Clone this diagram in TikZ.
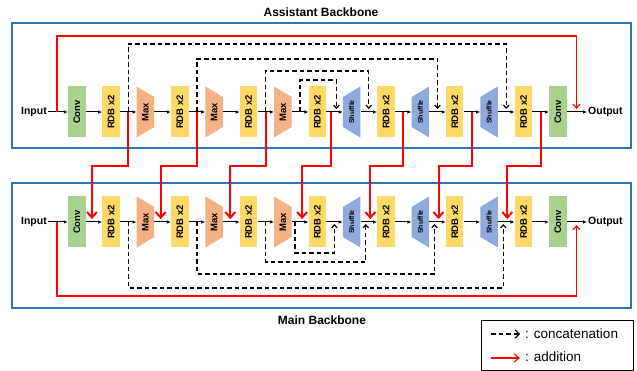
\documentclass[tikz,border=0pt]{standalone}
\usepackage{fontspec}
\usepackage{graphicx}
\setmainfont{Liberation Sans}
\setsansfont{Liberation Sans}
\usetikzlibrary{arrows.meta,calc}
\definecolor{Bc}{HTML}{2E75B6}
\definecolor{Cc}{HTML}{A9D18E}
\definecolor{Rc}{HTML}{FFD966}
\definecolor{Mc}{HTML}{F4B183}
\definecolor{Sc}{HTML}{8FAADC}
\definecolor{Ac}{HTML}{FF0000}
\tikzset{
  blk/.style={rectangle, inner sep=0pt, minimum width=17.5pt, minimum height=51pt, font=\bfseries\fontsize{9.5}{9.5}\selectfont},
  conv/.style={blk, fill=Cc},
  rdb/.style={blk, fill=Rc},
  maxp/.style={blk, path picture={\fill[Mc] (path picture bounding box.north west) -- ([yshift=-10.5pt]path picture bounding box.north east) -- ([yshift=10.5pt]path picture bounding box.south east) -- (path picture bounding box.south west) -- cycle;}},
  shuf/.style={blk, font=\bfseries\fontsize{7}{7}\selectfont, path picture={\fill[Sc] ([yshift=-10.5pt]path picture bounding box.north west) -- (path picture bounding box.north east) -- (path picture bounding box.south east) -- ([yshift=10.5pt]path picture bounding box.south west) -- cycle;}},
  io/.style={inner sep=1pt, font=\bfseries\fontsize{10.5}{10.5}\selectfont},
  ttl/.style={inner sep=1pt, font=\bfseries\fontsize{12}{12}\selectfont},
  bbox/.style={draw=Bc, line width=2pt, inner sep=0pt},
  flow/.style={-{Latex[length=4pt,width=3.5pt]}, line width=1pt},
  cat/.style={-{Straight Barb[length=3pt,width=5.5pt]}, dash pattern=on 4.5pt off 3pt, line width=1.2pt},
  add/.style={-{Straight Barb[length=4pt,width=7pt]}, Ac, line width=1.1pt},
  addx/.style={-{Straight Barb[length=5.5pt,width=10pt]}, Ac, line width=2pt},
}
\newcommand{\bbrow}[2]{% prefix, y
  \foreach \k/\lbl [count=\i from 0] in {conv/Conv, rdb/RDB x2, maxp/Max, rdb/RDB x2, maxp/Max, rdb/RDB x2, maxp/Max, rdb/RDB x2, shuf/Shuffle, rdb/RDB x2, shuf/Shuffle, rdb/RDB x2, shuf/Shuffle, rdb/RDB x2, conv/Conv}
    \node[\k] (#1\i) at ({76.75+34.36*\i},#2) {\rotatebox{90}{\lbl}};
  \foreach \i [evaluate=\i as \j using int(\i+1)] in {0,...,13} {
    \draw[flow] (#1\i) -- (#1\j);
    \coordinate (#1g\i) at ($(#1\i.east)!0.5!(#1\j.west)$);
  }
  \node[io, anchor=east] (#1in) at (48,#2) {Input};
  \node[io, anchor=west] (#1out) at (587,#2) {Output};
  \draw[flow] (#1in) -- (#10);
  \draw[flow] (#114) -- (#1out);
  \coordinate (#1s) at (57,#2);
  \coordinate (#1e) at (576.5,#2);
}

\begin{document}
\begin{tikzpicture}[x=1pt,y=-1pt]
  \useasboundingbox (0,0) rectangle (637,371);
  \node[bbox, minimum width=619pt, minimum height=125pt] (abox) at (321.5,85.5) {};
  \node[bbox, minimum width=619pt, minimum height=125pt] (mbox) at (321.5,245.5) {};
  \node[ttl] (attl) at (321,12.5) {Assistant Backbone};
  \node[ttl] (mttl) at (322,320) {Main Backbone};
  \bbrow{a}{112}
  \bbrow{m}{222}
  % skip from input to output
  \draw[add] (as) -- ++(0,-76) -| ([yshift=3pt]ae);
  \draw[add] (ms) -- ++(0,74) -| ([yshift=-3pt]me);
  % concatenation, assistant backbone
  \draw[cat] (ag1) -- ++(0,-68) -| ([yshift=3pt]ag12);
  \draw[cat] (ag3) -- ++(0,-53) -| ([yshift=3pt]ag10);
  \draw[cat] (ag5) -- ++(0,-41) -| ([yshift=3pt]ag8);
  \draw[cat] (ag6) -- ++(0,-32) -| ([xshift=2pt,yshift=3pt]ag7);
  % concatenation, main backbone
  \draw[cat] (mg1) -- ++(0,66) -| ([xshift=-3pt,yshift=-2pt]mg12);
  \draw[cat] (mg3) -- ++(0,52) -| ([xshift=-3pt,yshift=-2pt]mg10);
  \draw[cat] (mg5) -- ++(0,40) -| ([xshift=-3pt,yshift=-2pt]mg8);
  \draw[cat] ([xshift=-5pt]mg6) -- ++(0,31) -| ([yshift=-2pt]mg7);
  % addition, assistant to main
  \foreach \a/\sa/\b/\sb in {1/0/0/-2, 3/0/2/-2, 5/0/4/-1, 7/-3/6/2, 9/0/8/1.5, 11/0/10/1, 13/0/12/1}
    \draw[addx] ([xshift=\sa pt]ag\a) -- ++(0,54) -| ([xshift=\sb pt,yshift=3pt]mg\b);
  % legend
  \node[draw, line width=0.8pt, minimum width=152pt, minimum height=50pt] (leg) at (557,345) {};
  \coordinate (lca) at (491,334);
  \coordinate (lcb) at (520,334);
  \coordinate (laa) at (491,358);
  \coordinate (lab) at (520,358);
  \draw[cat, -{Straight Barb[length=4pt,width=8pt]}] (lca) -- (lcb);
  \draw[add, -{Straight Barb[length=5pt,width=8pt]}] (laa) -- (lab);
  \node[anchor=west, inner sep=0pt, font=\fontsize{13.5}{13.5}\selectfont] (lct) at (525,334) {: concatenation};
  \node[anchor=west, inner sep=0pt, font=\fontsize{13.5}{13.5}\selectfont] (lat) at (525,357) {: addition};
\end{tikzpicture}
\end{document}
